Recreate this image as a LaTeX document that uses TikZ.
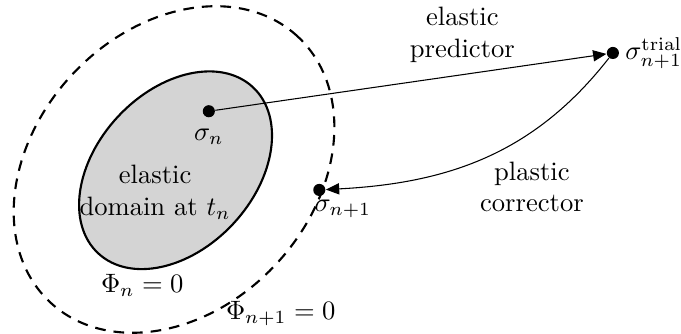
\documentclass[tikz,border=0pt]{standalone}
\usetikzlibrary{arrows.meta,positioning}

\begin{document}
\begin{tikzpicture}[>={Triangle[length=5pt,width=4.2pt]}, stress/.style={circle, fill=black, minimum size=0.16cm, inner sep=0pt}, surf/.style={line width=0.8pt}]
\useasboundingbox (0,0) rectangle (9,-4.414);
% yield surfaces
\draw[surf, fill=black!17, rotate around={47:(2.32,-2.25)}] (2.32,-2.25) ellipse (1.50 and 1.04);
\draw[surf, dash pattern=on 4pt off 3pt, rotate around={47:(2.30,-2.24)}] (2.30,-2.24) ellipse (2.40 and 1.84);
% stress states
\node[stress] (sn) at (2.76,-1.47) {};
\node[stress] (tr) at (8.10,-0.70) {};
\node[stress] (snp) at (4.22,-2.51) {};
\node[below=0.02cm of sn] (lsn) {$\sigma_n$};
\node[anchor=west, inner sep=1pt] (ltr) at ([xshift=1pt]tr.east) {$\sigma_{n+1}^{\mathrm{trial}}$};
\node[anchor=north west, inner sep=1pt] (lsnp) at ([xshift=-3pt]snp.south) {$\sigma_{n+1}$};
\draw[->] (sn) -- (tr);
\draw[->] (tr) to[out=-128, in=3] (snp);
% labels
\node[align=center] (pred) at (6.11,-0.46) {elastic\\predictor};
\node[align=center] (corr) at (7.03,-2.47) {plastic\\corrector};
\node[align=center] (dom) at (2.05,-2.54) {elastic\\domain at $t_n$};
\node (phin) at (1.88,-3.77) {$\Phi_n = 0$};
\node (phinp) at (3.71,-4.15) {$\Phi_{n+1} = 0$};
\end{tikzpicture}
\end{document}
